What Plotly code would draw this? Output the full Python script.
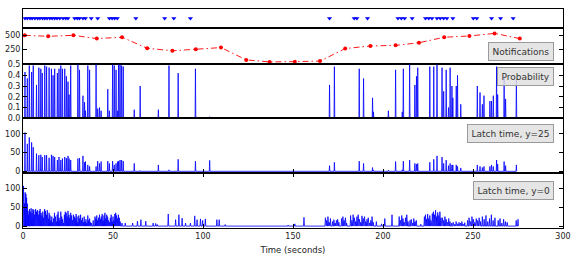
import plotly.graph_objects as go

# ---------------- data ----------------
# notification events (top strip)
event_t = [1.1, 2.4, 3.9, 5.1, 6.6, 8.1, 9.4, 10.9, 12.1, 13.4, 14.9, 16.2, 17.6, 18.9,
           20.4, 22.2, 23.7, 25.0, 28.7, 30.2, 31.4, 33.3, 34.7, 37.9, 41.5, 48.0, 49.5,
           50.9, 52.4, 62.7, 78.7, 83.8, 93.0, 170.3, 184.0, 185.5, 191.4, 208.3, 210.2,
           212.0, 216.2, 223.6, 225.4, 227.2, 230.0, 231.8, 233.7, 235.5, 238.8, 250.2,
           252.1, 260.3, 265.3, 272.3]

# notifications count
notif_t = [1, 14, 28, 41, 55, 69, 83, 96, 110, 124, 137, 151, 165, 179, 193, 207, 220,
           234, 248, 262, 276]
notif_v = [500, 482, 500, 441, 465, 267, 221, 249, 279, 57, 20, 25, 35, 261, 308, 319,
           366, 465, 488, 535, 441]

# probability spikes and latch time (y=25) at the same instants
prob_t = [1.1, 2.4, 3.5, 4.8, 5.7, 7.5, 8.8, 9.9, 10.7, 12.1,
          13.1, 14.5, 15.8, 16.7, 17.6, 19.1, 20.0, 21.0, 21.9, 23.2,
          24.1, 25.0, 25.6, 26.5, 30.5, 31.4, 33.3, 34.2, 34.7, 36.0,
          37.0, 40.6, 41.5, 42.5, 43.4, 47.1, 48.0, 49.8, 50.7, 51.7,
          52.6, 53.1, 53.9, 54.8, 55.7, 61.8, 65.1, 75.2, 81.1, 86.2,
          95.8, 103.7,
          170.3, 173.0, 186.8, 189.2, 194.2, 194.7, 203.0, 207.0, 210.7, 211.3,
          214.8, 217.7, 218.6, 219.3, 226.0, 228.2, 230.0, 232.8, 233.7, 235.1,
          236.4, 237.3, 238.3, 238.8, 240.7, 241.4, 243.2, 252.4, 253.9, 255.2,
          256.1, 259.4, 260.3, 261.3, 263.1, 263.7, 267.3, 268.1, 274.1]
prob_v = [0.43, 0.37, 0.49, 0.43, 0.49, 0.31, 0.47, 0.46, 0.42, 0.49,
          0.48, 0.47, 0.46, 0.40, 0.46, 0.42, 0.46, 0.49, 0.46, 0.46,
          0.39, 0.34, 0.22, 0.49, 0.50, 0.45, 0.21, 0.15, 0.07, 0.49,
          0.45, 0.50, 0.09, 0.10, 0.07, 0.27, 0.07, 0.50, 0.49, 0.45,
          0.07, 0.50, 0.50, 0.49, 0.48, 0.08, 0.30, 0.08, 0.49, 0.42,
          0.46, 0.015,
          0.31, 0.48, 0.46, 0.37, 0.19, 0.06, 0.07, 0.45, 0.06, 0.46,
          0.50, 0.31, 0.39, 0.47, 0.48, 0.48, 0.50, 0.47, 0.25, 0.45,
          0.10, 0.47, 0.30, 0.19, 0.30, 0.40, 0.13, 0.30, 0.24, 0.13,
          0.21, 0.16, 0.16, 0.21, 0.48, 0.22, 0.39, 0.18, 0.37]
latch25_v = [103, 73, 90, 77, 64, 47, 43, 44, 38, 43,
             43, 36, 44, 41, 38, 30, 38, 30, 34, 38,
             35, 41, 34, 30, 34, 35, 41, 24, 26, 17,
             13, 13, 27, 21, 26, 27, 21, 27, 17, 21,
             26, 27, 30, 30, 27, 21, 2, 17, 4, 32,
             27, 29,
             15, 24, 27, 21, 10, 3, 3, 26, 4, 27,
             30, 21, 19, 21, 24, 32, 41, 38, 21, 30,
             15, 21, 17, 17, 17, 13, 9, 17, 13, 10,
             13, 13, 17, 13, 30, 19, 26, 15, 17]

# latch time (y=0)
latch0_t = [0.3, 0.8, 1.2, 1.6, 2.0, 2.4, 2.8, 3.2, 3.6, 4.0,
            4.5, 5.0, 5.5, 6.0, 6.5, 7.0, 7.5, 8.0, 8.5, 9.0,
            9.5, 10.0, 10.5, 11.0, 11.5, 12.0, 12.5, 13.0, 13.5, 14.0,
            14.5, 15.0, 15.5, 16.0, 16.5, 17.0, 17.5, 18.0, 18.5, 19.0,
            19.5, 20.0, 20.5, 21.0, 21.5, 22.0, 22.5, 23.0, 23.5, 24.0,
            24.5, 25.0, 25.5, 26.0, 26.5, 27.0, 27.5, 28.0, 28.5, 29.0,
            29.5, 30.0, 30.5, 31.0, 31.5, 32.0, 32.5, 33.0, 33.5, 34.0,
            34.5, 35.0, 35.5, 36.0, 36.5, 37.0, 37.5, 38.0, 39.0, 40.0,
            40.5, 41.0, 41.5, 42.0, 42.5, 43.0, 43.5, 44.0, 44.5, 45.0,
            45.5, 46.0, 46.5, 47.0, 47.5, 48.0, 48.5, 49.0, 49.5, 50.0,
            50.5, 51.0, 51.5, 52.0, 52.5, 53.0, 53.5, 54.0, 55.0,
            56.8, 60.9, 63.6, 65.5, 68.2, 72.3, 73.7, 74.6, 80.7, 84.8,
            86.6, 88.4, 90.3, 93.0, 95.4, 96.7, 98.6, 99.8, 101.3, 107.7,
            109.0, 112.3, 147.3, 151.0, 156.1,
            168.0, 168.7, 169.4, 170.1, 170.8, 172.0, 172.7, 173.4, 174.1, 174.8,
            175.5, 177.0, 177.7, 178.4, 179.1, 179.8, 182.0, 182.7, 183.4, 184.1,
            184.8, 185.5, 186.2, 186.9, 187.6, 188.3, 189.0, 189.7, 190.4, 191.1,
            191.8, 192.5, 193.2, 193.9, 194.6, 196.3, 199.2, 201.0, 205.0, 209.0,
            209.7, 210.4, 211.1, 211.8, 212.5, 213.2, 213.9, 215.0, 215.7, 216.4,
            217.1, 217.8, 218.5, 221.0, 223.0, 223.6, 224.2, 224.8, 225.4, 226.0,
            226.6, 227.4, 228.0, 228.6, 229.2, 229.8, 230.4, 231.0, 231.6, 232.2,
            233.0, 233.7, 234.4, 235.1, 235.8, 236.5, 237.2, 238.2, 239.0, 239.8,
            240.6, 241.4, 242.2, 243.0, 243.8, 244.6, 245.4, 247.0, 247.8, 248.6,
            249.4, 250.2, 251.0, 251.8, 252.6, 253.4, 254.2, 255.2, 256.2, 257.2,
            258.2, 259.2, 260.2, 261.2, 262.2, 264.0, 265.0, 266.0, 267.0, 268.0,
            269.0, 274.0, 275.0]
latch0_v = [106, 60, 89, 85, 75, 59, 40, 30, 45, 38,
            47, 35, 45, 42, 30, 45, 38, 42, 30, 40,
            45, 35, 28, 38, 22, 45, 40, 30, 42, 20,
            35, 28, 15, 25, 10, 20, 35, 25, 12, 30,
            38, 22, 15, 38, 25, 18, 8, 30, 38, 35,
            25, 40, 30, 22, 35, 28, 15, 30, 25, 20,
            32, 25, 10, 28, 20, 30, 15, 22, 10, 25,
            12, 18, 8, 28, 15, 20, 10, 8, 15, 25,
            20, 28, 15, 22, 30, 18, 25, 32, 15, 28,
            35, 20, 30, 25, 15, 10, 22, 30, 12, 25,
            15, 32, 35, 28, 20, 30, 22, 12, 8,
            8, 8, 13, 17, 13, 8, 7, 4, 32, 17,
            30, 21, 8, 8, 27, 17, 19, 15, 19, 17,
            17, 4, 3, 6, 23,
            22, 15, 25, 10, 20, 12, 17, 8, 15, 18,
            10, 20, 25, 15, 22, 8, 28, 15, 30, 22,
            12, 25, 30, 18, 10, 27, 20, 25, 12, 18,
            22, 8, 15, 25, 10, 12, 6, 20, 30, 25,
            15, 28, 20, 10, 22, 30, 12, 15, 18, 8,
            20, 12, 15, 5, 25, 30, 18, 32, 20, 28,
            15, 33, 38, 30, 42, 25, 36, 28, 38, 22,
            22, 15, 25, 18, 10, 20, 12, 8, 10, 5,
            12, 6, 10, 8, 12, 5, 9, 15, 22, 12,
            25, 18, 10, 20, 15, 22, 12, 25, 18, 28,
            12, 20, 30, 15, 22, 15, 20, 8, 18, 12,
            10, 15, 18]

labels = ["Notifications", "Probability", "Latch time, y=25", "Latch time, y=0"]
time_ticks = [0, 50, 100, 150, 200, 250, 300]


def spikes(ts, vs, w=0.2):
    xs, ys = [], []
    for t, v in zip(ts, vs):
        xs += [t - w, t, t + w]
        ys += [0, v, 0]
    return xs, ys


FONT = "DejaVu Sans"
BLUE = "#0000ff"

fig = go.Figure()

# top strip: events
fig.add_trace(go.Scatter(x=event_t, y=[0] * len(event_t), mode="markers",
                         marker=dict(symbol="triangle-down", size=4.5, color=BLUE),
                         xaxis="x", yaxis="y", showlegend=False))
# notifications
fig.add_trace(go.Scatter(x=notif_t, y=notif_v, mode="lines+markers",
                         line=dict(color="#ff0000", width=0.9, dash="6px,3px,1.5px,3px"),
                         marker=dict(size=4, color="#ff0000"),
                         xaxis="x2", yaxis="y2", showlegend=False))
# probability
px_, py_ = spikes(prob_t, prob_v)
fig.add_trace(go.Scatter(x=px_, y=py_, mode="lines", line=dict(color=BLUE, width=0.8),
                         xaxis="x3", yaxis="y3", showlegend=False))
# latch y=25
lx, ly = spikes(prob_t, latch25_v)
fig.add_trace(go.Scatter(x=lx, y=ly, mode="lines", line=dict(color=BLUE, width=0.8),
                         xaxis="x4", yaxis="y4", showlegend=False))
# latch y=0
l0x, l0y = spikes(latch0_t, latch0_v, w=0.25)
fig.add_trace(go.Scatter(x=l0x, y=l0y, mode="lines", line=dict(color=BLUE, width=0.8),
                         xaxis="x5", yaxis="y5", showlegend=False))

tickfont = dict(family=FONT, size=8, color="#222")
base_x = dict(range=[0, 300], showgrid=False, zeroline=False, showline=True,
              linecolor="black", linewidth=1, mirror=True, tickvals=time_ticks,
              tickfont=tickfont)
base_y = dict(showgrid=False, zeroline=False, showline=True, linecolor="black",
              linewidth=1, tickfont=tickfont, ticks="inside", ticklen=4,
              tickcolor="black", mirror="ticks")

domains = [[0.915, 1.0], [0.7467, 0.915], [0.5009, 0.7467], [0.2511, 0.5009], [0.0, 0.2511]]

layout = dict(
    width=576, height=259,
    margin=dict(l=23, r=9, t=5, b=27),
    paper_bgcolor="white", plot_bgcolor="white",
    font=dict(family=FONT, size=8, color="#222"),
)
for i in range(5):
    n = "" if i == 0 else str(i + 1)
    xa = dict(base_x, anchor="y" + n)
    if i > 0:
        xa["matches"] = "x"
    if i < 3:
        xa.update(ticks="", showticklabels=False)
    elif i == 3:
        xa.update(ticks="inside", ticklen=4, tickcolor="black", showticklabels=False)
    else:
        xa.update(ticks="inside", ticklen=4, tickcolor="black", mirror="ticks",
                  title=dict(text="Time (seconds)", font=dict(family=FONT, size=8.5),
                             standoff=7))
    layout["xaxis" + n] = xa

layout["yaxis"] = dict(base_y, domain=domains[0], range=[-1, 1], ticks="",
                       showticklabels=False, mirror=True, anchor="x")
layout["yaxis2"] = dict(base_y, domain=domains[1], range=[-26, 639],
                        tickvals=[250, 500], anchor="x2")
layout["yaxis3"] = dict(base_y, domain=domains[2], range=[0, 0.5],
                        tickvals=[0, 0.1, 0.2, 0.3, 0.4, 0.5],
                        ticktext=["0.0", "0.1", "0.2", "0.3", "0.4", "0.5"], anchor="x3")
layout["yaxis4"] = dict(base_y, domain=domains[3], range=[-4.5, 141],
                        tickvals=[0, 50, 100], anchor="x4")
layout["yaxis5"] = dict(base_y, domain=domains[4], range=[-5, 140],
                        tickvals=[0, 50, 100], anchor="x5")

fig.update_layout(**layout)

label_y = [0.808, 0.692, 0.4295, 0.1696]
for txt, yy in zip(labels, label_y):
    fig.add_annotation(text=txt, xref="paper", yref="paper", x=0.983, y=yy,
                       xanchor="right", yanchor="middle", showarrow=False,
                       font=dict(family=FONT, size=9, color="#333"),
                       bgcolor="rgba(225,225,225,0.85)", bordercolor="#9a9a9a",
                       borderwidth=1, borderpad=3.5)

fig.write_html("out.html")
